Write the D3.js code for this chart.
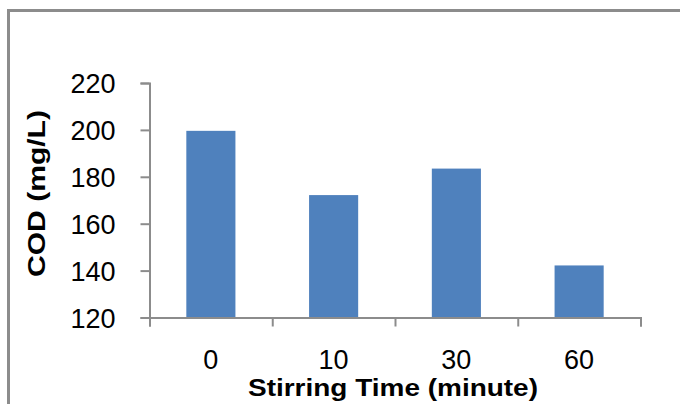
<!DOCTYPE html>
<html><head><meta charset="utf-8">
<script src="https://cdn.jsdelivr.net/npm/d3@7"></script>
<style>body{margin:0;background:#fff}svg{display:block}</style>
</head><body>
<script>
const categories = ["0", "10", "30", "60"];
const values = [199.6, 172.2, 183.5, 142.2];
const yTicks = [120, 140, 160, 180, 200, 220];
const xTitle = "Stirring Time (minute)";
const yTitle = "COD (mg/L)";

const W = 680, H = 404;
const svg = d3.select("body").append("svg").attr("width", W).attr("height", H);
svg.append("rect").attr("width", W).attr("height", H).attr("fill", "#fff");
// outer frame
svg.append("path").attr("d", "M8.5,420 V10.5 H700").attr("fill", "none")
  .attr("stroke", "#8c8c8c").attr("stroke-width", 3);

const L = 149.5, R = 640.5, T = 83, B = 317.5;
const x = d3.scaleBand().domain(categories).range([L, R]).paddingInner(0.6).paddingOuter(0.3);
const y = d3.scaleLinear().domain([120, 220]).range([B, T]);

svg.selectAll("rect.bar").data(values).join("rect").attr("class", "bar")
  .attr("x", (d, i) => x(categories[i])).attr("width", x.bandwidth())
  .attr("y", d => y(d)).attr("height", d => y(120) - y(d))
  .attr("fill", "#4f81bd");

const font = "'Liberation Sans', Arial, sans-serif";
const yAxis = svg.append("g").attr("transform", `translate(${L},0)`)
  .call(d3.axisLeft(y).tickValues(yTicks).tickSize(9).tickPadding(25).tickFormat(d3.format("d")));
const xs = d3.scaleLinear().domain([0, 4]).range([L, R]);
const xAxis = svg.append("g").attr("transform", `translate(0,${B})`)
  .call(d3.axisBottom(xs).tickValues([0,1,2,3,4]).tickSize(9).tickFormat(""));
[yAxis, xAxis].forEach(g => {
  g.select(".domain").attr("stroke", "#8c8c8c").attr("stroke-width", 2);
  g.selectAll(".tick line").attr("stroke", "#8c8c8c").attr("stroke-width", 2);
});
yAxis.selectAll(".tick text").attr("font-family", font).attr("font-size", 27).attr("fill", "#000").attr("dy", "0.36em");
svg.append("g").selectAll("text").data(categories).join("text")
  .attr("x", d => x(d) + x.bandwidth() / 2).attr("y", 369)
  .attr("text-anchor", "middle").attr("font-family", font).attr("font-size", 27).attr("fill", "#000")
  .text(d => d);

svg.append("text").attr("x", 393).attr("y", 396).attr("text-anchor", "middle")
  .attr("font-family", font).attr("font-size", 23).attr("font-weight", "bold").attr("fill", "#000")
  .attr("textLength", 290).attr("lengthAdjust", "spacingAndGlyphs")
  .text(xTitle);
svg.append("text").attr("transform", "translate(45,193.5) rotate(-90)").attr("text-anchor", "middle")
  .attr("font-family", font).attr("font-size", 24).attr("font-weight", "bold").attr("fill", "#000")
  .attr("textLength", 167).attr("lengthAdjust", "spacingAndGlyphs")
  .text(yTitle);
</script>
</body></html>
